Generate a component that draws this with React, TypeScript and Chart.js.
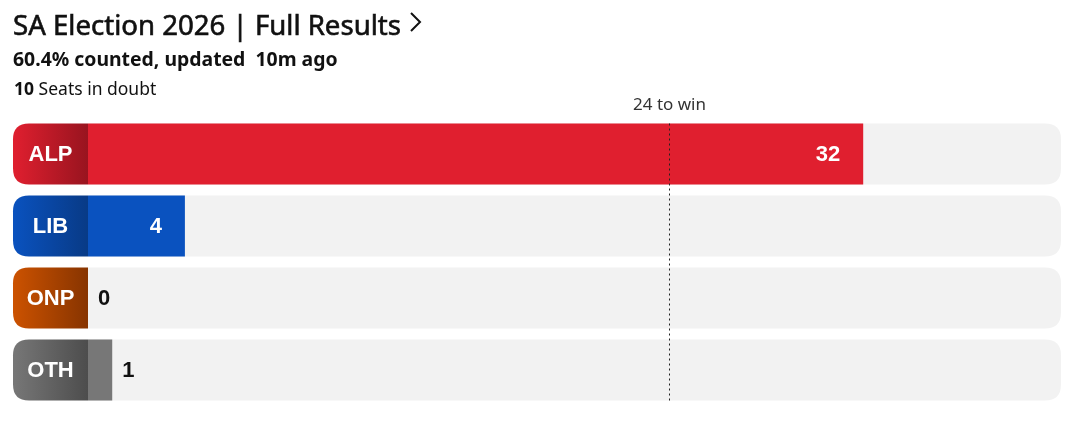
import React, { useEffect, useRef } from "react";
import { Chart, registerables } from "chart.js";

Chart.register(...registerables);

const parties = ["ALP", "LIB", "ONP", "OTH"];
const seats = [32, 4, 0, 1];
const barColors = ["#e01f2f", "#0a52bf", "#cc5200", "#777777"];
const labelLight = ["#e01f2f", "#0a52bf", "#cc5200", "#777777"];
const labelDark = ["#98141f", "#083a86", "#873400", "#4d4d4d"];
const seatsToWin = 24;
const scaleMax = 40;
const titleText = "SA Election 2026 | Full Results";
const countedText = "60.4% counted, updated\u00a0 10m ago";
const doubtCount = "10";
const doubtText = " Seats in doubt";

const LABEL_LEFT = 13;
const BAR_H = 61;
const RADIUS = 16;

function roundRect(ctx: CanvasRenderingContext2D, x: number, y: number, w: number, h: number, r: { tl: number; tr: number; br: number; bl: number }) {
  ctx.beginPath();
  ctx.moveTo(x + r.tl, y);
  ctx.lineTo(x + w - r.tr, y);
  ctx.quadraticCurveTo(x + w, y, x + w, y + r.tr);
  ctx.lineTo(x + w, y + h - r.br);
  ctx.quadraticCurveTo(x + w, y + h, x + w - r.br, y + h);
  ctx.lineTo(x + r.bl, y + h);
  ctx.quadraticCurveTo(x, y + h, x, y + h - r.bl);
  ctx.lineTo(x, y + r.tl);
  ctx.quadraticCurveTo(x, y, x + r.tl, y);
  ctx.closePath();
}

const trackPlugin = {
  id: "tracks",
  beforeDatasetsDraw(chart: any) {
    const ctx = chart.ctx as CanvasRenderingContext2D;
    const { chartArea } = chart;
    const y = chart.scales.y;
    ctx.save();
    parties.forEach((p, i) => {
      const cy = y.getPixelForValue(i);
      const top = cy - BAR_H / 2;
      ctx.fillStyle = "#f2f2f2";
      roundRect(ctx, chartArea.left, top, chartArea.right + 4 - chartArea.left, BAR_H, { tl: 0, bl: 0, tr: RADIUS, br: RADIUS });
      ctx.fill();
      const g = ctx.createLinearGradient(LABEL_LEFT, 0, chartArea.left, 0);
      g.addColorStop(0, labelLight[i]);
      g.addColorStop(1, labelDark[i]);
      ctx.fillStyle = g;
      roundRect(ctx, LABEL_LEFT, top, chartArea.left - LABEL_LEFT, BAR_H, { tl: RADIUS, bl: RADIUS, tr: 0, br: 0 });
      ctx.fill();
      ctx.fillStyle = "#ffffff";
      ctx.font = "bold 22px 'Liberation Sans', Arial, sans-serif";
      ctx.textAlign = "center";
      ctx.textBaseline = "middle";
      ctx.fillText(p, (LABEL_LEFT + chartArea.left) / 2, cy + 1);
    });
    ctx.restore();
  },
  afterDatasetsDraw(chart: any) {
    const ctx = chart.ctx as CanvasRenderingContext2D;
    const x = chart.scales.x;
    const y = chart.scales.y;
    ctx.save();
    ctx.font = "bold 22px 'Liberation Sans', Arial, sans-serif";
    ctx.textBaseline = "middle";
    seats.forEach((v, i) => {
      const cy = y.getPixelForValue(i) + 1;
      const x0 = x.getPixelForValue(0);
      const x1 = x.getPixelForValue(v);
      if (x1 - x0 > 60) {
        ctx.fillStyle = "#ffffff";
        ctx.textAlign = "right";
        ctx.fillText(String(v), x1 - 23, cy);
      } else {
        ctx.fillStyle = "#111111";
        ctx.textAlign = "left";
        ctx.fillText(String(v), x1 + 10, cy);
      }
    });
    const wx = Math.round(x.getPixelForValue(seatsToWin)) + 0.5;
    const topY = y.getPixelForValue(0) - BAR_H / 2;
    const botY = y.getPixelForValue(parties.length - 1) + BAR_H / 2 + 2;
    ctx.strokeStyle = "#222222";
    ctx.lineWidth = 1;
    ctx.setLineDash([2, 3]);
    ctx.beginPath();
    ctx.moveTo(wx, topY);
    ctx.lineTo(wx, botY);
    ctx.stroke();
    ctx.setLineDash([]);
    ctx.fillStyle = "#333333";
    ctx.font = "17px 'Noto Sans', sans-serif";
    ctx.textAlign = "center";
    ctx.textBaseline = "middle";
    ctx.fillText(`${seatsToWin} to win`, wx, topY - 18);
    ctx.restore();
  },
};

export default function App() {
  const ref = useRef<HTMLCanvasElement>(null);
  useEffect(() => {
    document.body.style.margin = "0";
    const chart = new Chart(ref.current!, {
      type: "bar",
      data: {
        labels: parties,
        datasets: [
          {
            data: seats,
            backgroundColor: barColors,
            borderWidth: 0,
            barPercentage: 1,
            categoryPercentage: BAR_H / 72,
          },
        ],
      },
      options: {
        indexAxis: "y",
        responsive: false,
        maintainAspectRatio: false,
        animation: false,
        layout: { padding: { left: 88, right: 23, top: 118, bottom: 28 } },
        plugins: { legend: { display: false }, tooltip: { enabled: false }, title: { display: false } },
        scales: {
          x: { display: false, min: 0, max: scaleMax },
          y: { display: false },
        },
      },
      plugins: [trackPlugin],
    });
    return () => chart.destroy();
  }, []);

  return (
    <div style={{ position: "relative", width: 1080, height: 434, background: "#fff", fontFamily: "'Noto Sans', sans-serif", color: "#111" }}>
      <canvas ref={ref} width={1080} height={434} style={{ position: "absolute", left: 0, top: 0, display: "block" }} />
      <div style={{ position: "absolute", left: 13, top: 5, fontSize: 27.6, whiteSpace: "nowrap", display: "flex", alignItems: "center", WebkitTextStroke: "0.6px #111" }}>
        <span>{titleText}</span>
        <svg width="16" height="22" viewBox="0 0 16 22" style={{ marginLeft: 7, marginTop: -4 }}>
          <polyline points="3,2 12,11 3,20" fill="none" stroke="#111" strokeWidth="2" />
        </svg>
      </div>
      <div style={{ position: "absolute", left: 13, top: 45, fontSize: 19.4, fontWeight: 700, whiteSpace: "nowrap" }}>{countedText}</div>
      <div style={{ position: "absolute", left: 14, top: 76, fontSize: 17.5, whiteSpace: "nowrap" }}>
        <b>{doubtCount}</b>
        {doubtText}
      </div>
    </div>
  );
}
